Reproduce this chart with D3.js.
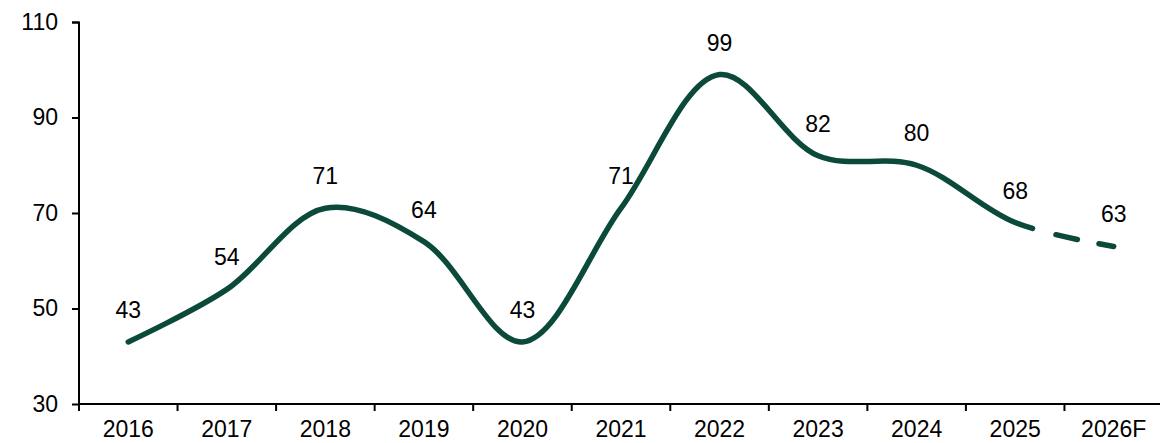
<!DOCTYPE html>
<html>
<head>
<meta charset="utf-8">
<script src="https://cdn.jsdelivr.net/npm/d3@7"></script>
<style>
  body { margin: 0; background: #fff; }
  text { font-family: "Liberation Sans", Arial, sans-serif; fill: #000; }
</style>
</head>
<body>
<svg id="chart" width="1160" height="443"></svg>
<script>
const years = ['2016', '2017', '2018', '2019', '2020', '2021', '2022', '2023', '2024', '2025', '2026F'];
const values = [43, 54, 71, 64, 43, 71, 99, 82, 80, 68, 63];
const forecastFrom = 9; // line turns dashed after 2025
const yTicks = [30, 50, 70, 90, 110];

const margin = { top: 22, right: -3, bottom: 39, left: 79 };
const svg = d3.select('#chart');
const width = 1160 - margin.left - margin.right;
const height = 443 - margin.top - margin.bottom;
const lineColor = '#0b4a3a';
const fontSize = '23px';

const x = d3.scaleBand().domain(years).range([0, width]);
const y = d3.scaleLinear().domain([30, 110]).range([height, 0]);
const cx = d => x(d.year) + x.bandwidth() / 2;

const plot = svg.append('g').attr('transform', `translate(${margin.left},${margin.top})`);

const data = years.map((d, i) => ({ year: d, value: values[i] }));

const line = d3.line()
  .x(cx)
  .y(d => y(d.value))
  .curve(d3.curveCatmullRom.alpha(0.5));

const path = plot.append('path')
  .datum(data)
  .attr('d', line)
  .attr('fill', 'none')
  .attr('stroke', lineColor)
  .attr('stroke-width', 5.5)
  .attr('stroke-linecap', 'round');

// find length along the path where the forecast part starts
const node = path.node();
const total = node.getTotalLength();
const splitX = cx(data[forecastFrom]);
let lo = 0, hi = total;
for (let i = 0; i < 40; i++) {
  const mid = (lo + hi) / 2;
  if (node.getPointAtLength(mid).x < splitX) lo = mid; else hi = mid;
}
path.attr('stroke-dasharray', `${lo + 18} 24 22 22 22 400`);

// value labels
plot.selectAll('.val')
  .data(data)
  .enter()
  .append('text')
  .attr('class', 'val')
  .attr('x', cx)
  .attr('y', d => y(d.value) - 24)
  .attr('text-anchor', 'middle')
  .style('font-size', fontSize)
  .text(d => d.value);

// y axis
const yAxis = plot.append('g')
  .call(d3.axisLeft(y).tickValues(yTicks).tickSize(7).tickPadding(14));
yAxis.select('.domain').attr('stroke', '#000').attr('stroke-width', 2)
  .attr('d', `M-7,0.5H0V${height}`);
yAxis.selectAll('.tick line').attr('stroke-width', 2);
yAxis.selectAll('text').style('font-size', fontSize).attr('font-family', null);

// x axis, ticks sit between categories
const xAxis = plot.append('g')
  .attr('transform', `translate(0,${height})`)
  .call(d3.axisBottom(x).tickSize(0).tickPadding(17));
xAxis.select('.domain').attr('stroke', '#000').attr('stroke-width', 2)
  .attr('d', `M0,0H${width}`);
xAxis.selectAll('text').style('font-size', fontSize).attr('font-family', null);
xAxis.selectAll('.sep')
  .data(years)
  .enter()
  .append('line')
  .attr('class', 'sep')
  .attr('x1', d => x(d))
  .attr('x2', d => x(d))
  .attr('y1', 0)
  .attr('y2', 7)
  .attr('stroke', '#000')
  .attr('stroke-width', 2);
</script>
</body>
</html>
